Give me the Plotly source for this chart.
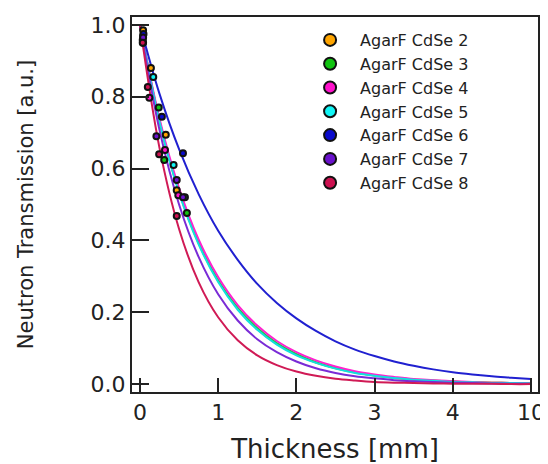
import plotly.graph_objects as go

series_names = ["AgarF CdSe 2", "AgarF CdSe 3", "AgarF CdSe 4", "AgarF CdSe 5",
                "AgarF CdSe 6", "AgarF CdSe 7", "AgarF CdSe 8"]
marker_colors = ["#FFA500", "#11C411", "#FF11CC", "#11F5F5", "#0A0ACC", "#6A11CC", "#CC1150"]
line_colors = ["#FFA500", "#22C844", "#FF22D0", "#11E0E0", "#2020D0", "#7A2BD6", "#D01A55"]

# measured points (thickness mm, transmission)
pts_x = [
    [0.04, 0.14, 0.33, 0.47],
    [0.04, 0.24, 0.31, 0.60],
    [0.035, 0.12, 0.32, 0.49],
    [0.04, 0.17, 0.43, 0.575],
    [0.045, 0.28, 0.55],
    [0.04, 0.21, 0.47, 0.55],
    [0.035, 0.10, 0.245, 0.47],
]
pts_y = [
    [0.985, 0.88, 0.694, 0.54],
    [0.97, 0.77, 0.624, 0.476],
    [0.958, 0.797, 0.652, 0.526],
    [0.95, 0.855, 0.61, 0.52],
    [0.975, 0.744, 0.643],
    [0.965, 0.69, 0.568, 0.52],
    [0.95, 0.827, 0.64, 0.468],
]

# fitted curves
curve_x = [0, 0.25, 0.5, 0.75, 1, 1.25, 1.5, 1.75, 2, 2.25, 2.5, 2.75, 3,
           3.25, 3.5, 3.75, 4, 4.25, 4.5, 4.75, 5]
curve_y = [
    [1, 0.732, 0.535, 0.392, 0.287, 0.210, 0.153, 0.112, 0.082, 0.060, 0.044, 0.032, 0.024,
     0.017, 0.013, 0.009, 0.007, 0.005, 0.004, 0.003, 0.002],
    [1, 0.733, 0.538, 0.395, 0.289, 0.212, 0.156, 0.114, 0.084, 0.061, 0.045, 0.033, 0.024,
     0.018, 0.013, 0.010, 0.007, 0.005, 0.004, 0.003, 0.002],
    [1, 0.739, 0.546, 0.403, 0.298, 0.220, 0.163, 0.120, 0.089, 0.066, 0.049, 0.036, 0.027,
     0.020, 0.014, 0.011, 0.008, 0.006, 0.004, 0.003, 0.002],
    [1, 0.730, 0.532, 0.389, 0.284, 0.207, 0.151, 0.110, 0.080, 0.059, 0.043, 0.031, 0.023,
     0.017, 0.012, 0.009, 0.006, 0.005, 0.003, 0.003, 0.002],
    [1, 0.808, 0.654, 0.529, 0.427, 0.346, 0.279, 0.226, 0.183, 0.148, 0.119, 0.096, 0.078,
     0.063, 0.051, 0.041, 0.033, 0.027, 0.022, 0.018, 0.014],
    [1, 0.707, 0.500, 0.354, 0.250, 0.177, 0.125, 0.089, 0.063, 0.044, 0.031, 0.022, 0.016,
     0.011, 0.008, 0.006, 0.004, 0.003, 0.002, 0.001, 0.001],
    [1, 0.657, 0.432, 0.284, 0.186, 0.122, 0.080, 0.053, 0.035, 0.023, 0.015, 0.010, 0.006,
     0.004, 0.003, 0.002, 0.001, 0.001, 0.001, 0.000, 0.000],
]

x_tickvals = [0, 1, 2, 3, 4, 5]
x_ticktext = ["0", "1", "2", "3", "4", "10"]
y_tickvals = [0.0, 0.2, 0.4, 0.6, 0.8, 1.0]
y_ticktext = ["0.0", "0.2", "0.4", "0.6", "0.8", "1.0"]

FONT = "DejaVu Sans, Liberation Sans, sans-serif"
INK = "#222222"

fig = go.Figure()
for i in range(len(series_names)):
    fig.add_trace(go.Scatter(x=curve_x, y=curve_y[i], mode="lines",
                             line=dict(color=line_colors[i], width=2, shape="spline", smoothing=1),
                             showlegend=False, hoverinfo="skip"))
for i in range(len(series_names)):
    fig.add_trace(go.Scatter(x=pts_x[i], y=pts_y[i], mode="markers", name=series_names[i],
                             marker=dict(size=6, color=marker_colors[i],
                                         line=dict(color="#111111", width=2))))

# the page body adds an 8px offset, so the figure is 8px smaller with margins reduced
fig.update_layout(
    width=540, height=456,
    margin=dict(l=124, r=10, t=9, b=72),
    paper_bgcolor="white", plot_bgcolor="white",
    font=dict(family=FONT, color=INK),
    showlegend=True,
    legend=dict(x=0.414, y=0.984, xanchor="left", yanchor="top",
                bgcolor="rgba(0,0,0,0)", borderwidth=0,
                font=dict(size=16, family=FONT, color=INK),
                itemsizing="constant", itemwidth=50, tracegroupgap=0),
    xaxis=dict(range=[-0.102, 5.09], tickmode="array", tickvals=x_tickvals, ticktext=x_ticktext,
               ticks="inside", ticklen=14, tickwidth=2, tickcolor=INK,
               showline=True, linewidth=2, linecolor=INK, mirror=True,
               showgrid=False, zeroline=False, ticklabeloverflow="allow",
               tickfont=dict(size=22, family=FONT, color=INK),
               title=dict(text="Thickness [mm]", font=dict(size=26, family=FONT, color=INK),
                          standoff=16),
               automargin=False),
    yaxis=dict(range=[-0.022, 1.022], tickmode="array", tickvals=y_tickvals, ticktext=y_ticktext,
               ticks="inside", ticklen=17, tickwidth=2, tickcolor=INK,
               showline=True, linewidth=2, linecolor=INK, mirror=True,
               showgrid=False, zeroline=False, ticklabeloverflow="allow",
               tickfont=dict(size=22, family=FONT, color=INK),
               ticklabelstandoff=0,
               title=dict(text="Neutron Transmission [a.u.]",
                          font=dict(size=21, family=FONT, color=INK), standoff=51),
               automargin=False),
)

fig.write_html("out.html")
